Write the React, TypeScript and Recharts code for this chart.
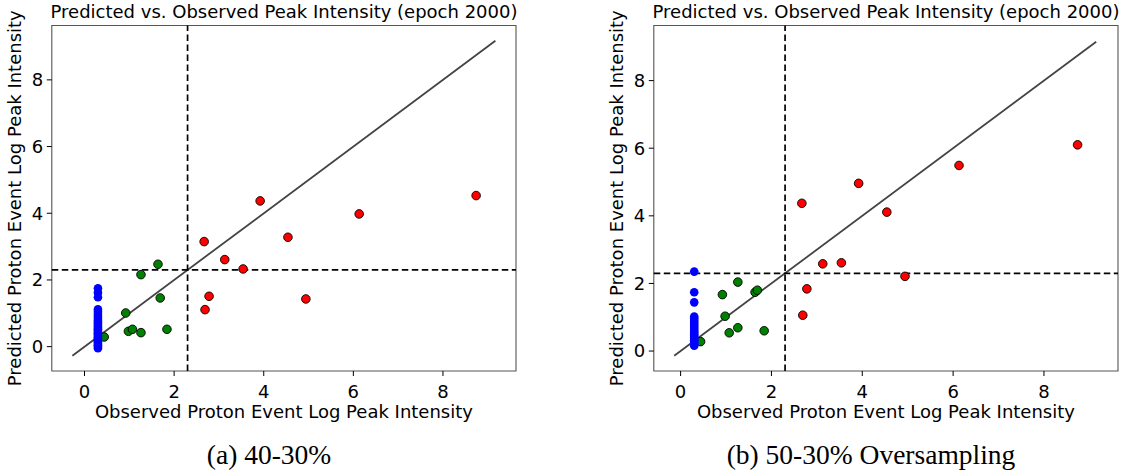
import React from 'react';
import { ScatterChart, Scatter, XAxis, YAxis, ReferenceLine, ReferenceArea } from 'recharts';

// ---- shared ----
const axisTicks = [0, 2, 4, 6, 8];
const threshold = 2.3;
const titleText = 'Predicted vs. Observed Peak Intensity (epoch 2000)';
const xLabelText = 'Observed Proton Event Log Peak Intensity';
const yLabelText = 'Predicted Proton Event Log Peak Intensity';
const captions = ['(a) 40-30%', '(b) 50-30% Oversampling'];

// ---- panel (a) 40-30% ----
const domainA = [-0.73, 9.63];
const diagA = [-0.27, 9.17];
const redObsA = [2.67, 3.92, 3.13, 3.54, 4.54, 6.13, 8.74, 2.78, 2.69, 4.94];
const redPredA = [3.15, 4.37, 2.61, 2.33, 3.28, 3.98, 4.53, 1.51, 1.11, 1.43];
const greenObsA = [0.44, 0.92, 0.98, 1.07, 1.26, 1.26, 1.64, 1.69, 1.84];
const greenPredA = [0.29, 1.01, 0.46, 0.52, 2.16, 0.42, 2.47, 1.46, 0.52];
const blueObsA = 0.3;
const bluePredA = [1.75, 1.62, 1.48, 1.12, 1.05, 0.98, 0.92, 0.86, 0.8, 0.75, 0.7, 0.65, 0.6, 0.56, 0.52, 0.48, 0.44, 0.4, 0.36, 0.32, 0.28, 0.24, 0.2, 0.16, 0.12, 0.08, 0.04, 0.0, -0.05];

// ---- panel (b) 50-30% Oversampling ----
const domainB = [-0.59, 9.63];
const diagB = [-0.14, 9.15];
const redObsB = [2.67, 3.92, 4.54, 6.13, 8.74, 3.13, 3.54, 4.94, 2.78, 2.69];
const redPredB = [4.37, 4.96, 4.11, 5.49, 6.1, 2.58, 2.61, 2.21, 1.84, 1.06];
const greenObsB = [0.44, 0.92, 0.98, 1.07, 1.26, 1.26, 1.64, 1.69, 1.84];
const greenPredB = [0.28, 1.67, 1.03, 0.54, 2.04, 0.69, 1.74, 1.8, 0.6];
const blueObsB = 0.3;
const bluePredB = [2.35, 1.74, 1.44, 1.02, 0.96, 0.9, 0.84, 0.78, 0.72, 0.66, 0.6, 0.55, 0.5, 0.45, 0.4, 0.36, 0.32, 0.28, 0.24, 0.2, 0.16];

const zip = (xs: number[], ys: number[]) => xs.map((x, i) => ({ x, y: ys[i] }));
const column = (x: number, ys: number[]) => ys.map((y) => ({ x, y }));

const FONT = 'DejaVu Sans, Verdana, sans-serif';

const makeDot = (fill: string, stroke: string | null) => (props: any) => {
  const { cx, cy } = props;
  if (cx == null || cy == null) return <g />;
  return (
    <circle
      cx={cx}
      cy={cy}
      r={4.3}
      fill={fill}
      stroke={stroke ?? 'none'}
      strokeWidth={stroke ? 0.9 : 0}
    />
  );
};

const redDot = makeDot('#ff0000', '#000');
const greenDot = makeDot('#008000', '#000');
const blueDot = makeDot('#0000ff', null);

const XLabel = (props: any) => {
  const vb = props.viewBox || {};
  return (
    <text
      x={vb.x + vb.width / 2}
      y={vb.y + 47}
      textAnchor="middle"
      fontFamily={FONT}
      fontSize={18}
      fill="#000"
    >
      {xLabelText}
    </text>
  );
};

const YLabel = (props: any) => {
  const vb = props.viewBox || {};
  const cx = vb.x + 14;
  const cy = vb.y + vb.height / 2;
  return (
    <text
      x={cx}
      y={cy}
      transform={`rotate(-90, ${cx}, ${cy})`}
      textAnchor="middle"
      dominantBaseline="central"
      fontFamily={FONT}
      fontSize={18}
      fill="#000"
    >
      {yLabelText}
    </text>
  );
};

type PanelProps = {
  domain: number[];
  diag: number[];
  red: { x: number; y: number }[];
  green: { x: number; y: number }[];
  blue: { x: number; y: number }[];
};

const Panel = ({ domain, diag, red, green, blue }: PanelProps) => (
  <ScatterChart width={526} height={440} margin={{ top: 25.5, right: 10, bottom: 0, left: 0 }}>
    <XAxis
      type="number"
      dataKey="x"
      domain={domain}
      ticks={axisTicks}
      allowDataOverflow
      height={69}
      axisLine={false}
      tickSize={5}
      tickMargin={9}
      tickLine={{ stroke: '#000', strokeWidth: 1 }}
      tick={{ fill: '#000', fontSize: 18, fontFamily: FONT }}
      label={{ content: XLabel }}
    />
    <YAxis
      type="number"
      dataKey="y"
      domain={domain}
      ticks={axisTicks}
      allowDataOverflow
      width={51.8}
      axisLine={false}
      tickSize={5}
      tickMargin={3.5}
      tickLine={{ stroke: '#000', strokeWidth: 1 }}
      tick={{ fill: '#000', fontSize: 18, fontFamily: FONT }}
      label={{ content: YLabel }}
    />
    <ReferenceArea
      x1={domain[0]}
      x2={domain[1]}
      y1={domain[0]}
      y2={domain[1]}
      fill="none"
      stroke="#555"
      strokeWidth={1.1}
      ifOverflow="visible"
    />
    <ReferenceLine
      segment={[
        { x: diag[0], y: diag[0] },
        { x: diag[1], y: diag[1] },
      ]}
      stroke="#444"
      strokeWidth={1.8}
      ifOverflow="visible"
    />
    <ReferenceLine x={threshold} stroke="#000" strokeWidth={1.7} strokeDasharray="6.5 3.5" />
    <ReferenceLine y={threshold} stroke="#000" strokeWidth={1.7} strokeDasharray="6.5 3.5" />
    <Scatter data={green} shape={greenDot} isAnimationActive={false} />
    <Scatter data={red} shape={redDot} isAnimationActive={false} />
    <Scatter data={blue} shape={blueDot} isAnimationActive={false} />
  </ScatterChart>
);

export default function App() {
  return (
    <div style={{ position: 'absolute', left: 0, top: 0, width: 1128, height: 472, background: '#fff', overflow: 'hidden' }}>
      <div style={{ position: 'absolute', left: 0, top: 0 }}>
        <Panel
          domain={domainA}
          diag={diagA}
          red={zip(redObsA, redPredA)}
          green={zip(greenObsA, greenPredA)}
          blue={column(blueObsA, bluePredA)}
        />
      </div>
      <div style={{ position: 'absolute', left: 602, top: 0 }}>
        <Panel
          domain={domainB}
          diag={diagB}
          red={zip(redObsB, redPredB)}
          green={zip(greenObsB, greenPredB)}
          blue={column(blueObsB, bluePredB)}
        />
      </div>
      <svg width={1128} height={472} style={{ position: 'absolute', left: 0, top: 0, pointerEvents: 'none' }}>
        <text x={284} y={17.5} textAnchor="middle" fontFamily={FONT} fontSize={18} fill="#000">
          {titleText}
        </text>
        <text x={886} y={17.5} textAnchor="middle" fontFamily={FONT} fontSize={18} fill="#000">
          {titleText}
        </text>
        <text x={269} y={464} textAnchor="middle" fontFamily="Liberation Serif, serif" fontSize={27.5} fill="#000">
          {captions[0]}
        </text>
        <text x={871} y={464} textAnchor="middle" fontFamily="Liberation Serif, serif" fontSize={27.5} fill="#000">
          {captions[1]}
        </text>
      </svg>
    </div>
  );
}
